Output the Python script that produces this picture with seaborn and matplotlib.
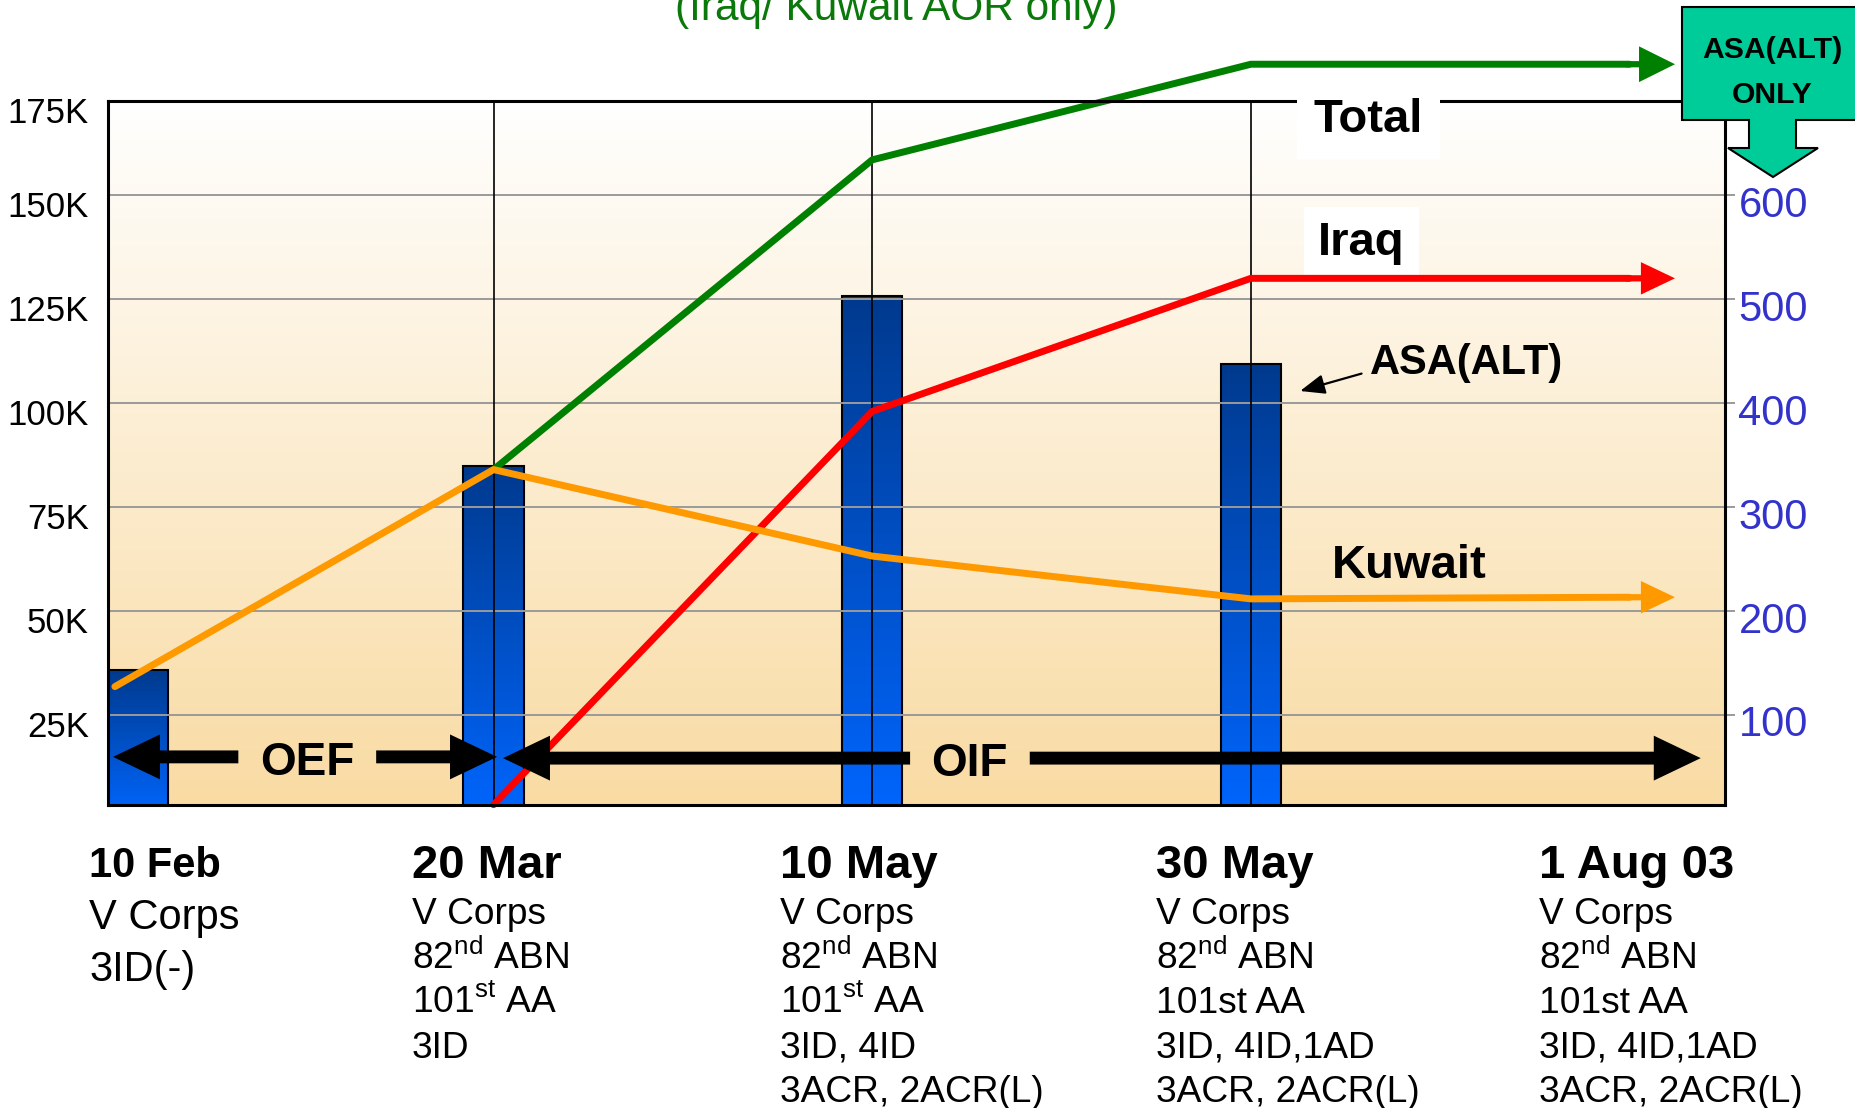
import numpy as np
import pandas as pd
import matplotlib
matplotlib.use("Agg")
import matplotlib.pyplot as plt
import matplotlib.transforms as mtransforms
from matplotlib import font_manager
from matplotlib.colors import LinearSegmentedColormap
from matplotlib.patches import Polygon, FancyArrow
import seaborn as sns

sns.set_theme(style="white")
plt.rcParams["font.family"] = ["Liberation Sans", "DejaVu Sans"]
plt.rcParams["mathtext.fontset"] = "custom"
plt.rcParams["mathtext.rm"] = "Liberation Sans"
plt.rcParams["text.color"] = "black"
plt.rcParams["axes.labelcolor"] = "black"
plt.rcParams["ytick.color"] = "black"
plt.rcParams["xtick.color"] = "black"

# stages along the time axis
stages = ["10 Feb", "20 Mar", "10 May", "30 May", "1 Aug 03"]
stage_pos = [0, 1, 2, 3, 4]

# personnel in thousands (left axis)
total_k = [None, 84, 158.5, 181.5, 181.5]
iraq_k = [None, 3.4, 98, 130, 130]
kuwait_k = [31.8, 84, 63.2, 52.9, 53.3]

# ASA(ALT) personnel (right axis, bars)
asa_pos = [0.06, 1, 2, 3]
asa_count = [143, 339, 503, 438]

left_ticks = [25, 50, 75, 100, 125, 150]
left_labels = ["25K", "50K", "75K", "100K", "125K", "150K"]
right_ticks = [100, 200, 300, 400, 500, 600]

units = [
    ["V Corps", "3ID(-)"],
    ["V Corps", r"82$^{\mathrm{nd}}$ ABN", r"101$^{\mathrm{st}}$ AA", "3ID"],
    ["V Corps", r"82$^{\mathrm{nd}}$ ABN", r"101$^{\mathrm{st}}$ AA", "3ID, 4ID", "3ACR, 2ACR(L)"],
    ["V Corps", r"82$^{\mathrm{nd}}$ ABN", "101st AA", "3ID, 4ID,1AD", "3ACR, 2ACR(L)"],
    ["V Corps", r"82$^{\mathrm{nd}}$ ABN", "101st AA", "3ID, 4ID,1AD", "3ACR, 2ACR(L)"],
]

colors = {"Total": "#008000", "Iraq": "#ff0000", "Kuwait": "#ff9900"}

W, H = 1856, 1108
fig = plt.figure(figsize=(W / 100, H / 100), dpi=100)
ax = fig.add_axes([107.7 / W, 1 - 804.9 / H, (1724.6 - 107.7) / W, (804.9 - 100.6) / H])

# background gradient
bg = LinearSegmentedColormap.from_list("bg", ["#ffffff", "#f9dba3"])
ax.imshow(np.linspace(0, 1, 256).reshape(-1, 1), cmap=bg, extent=[0, 1, 0, 1],
          transform=ax.transAxes, aspect="auto", origin="upper", zorder=0)

# bars
sns.barplot(x=asa_pos, y=asa_count, native_scale=True, width=0.17, orient="x",
            color="#0055dd", edgecolor="black", linewidth=1.5, errorbar=None, ax=ax)
bar_cmap = LinearSegmentedColormap.from_list("bar", ["#003a8e", "#0066ff"])
for p in ax.patches:
    x0, w, h = p.get_x(), p.get_width(), p.get_height()
    ax.imshow(np.linspace(0, 1, 256).reshape(-1, 1), cmap=bar_cmap,
              extent=[x0, x0 + w, 0, h], aspect="auto", origin="upper", zorder=1.2)
    p.set_facecolor("none")
    p.set_zorder(1.5)

for x in stage_pos[1:4]:
    ax.axvline(x, color="black", lw=1.2, zorder=3)

ax.set_xlim(-0.019, 4.251)
ax.set_ylim(13.4, 691)
ax.set_axisbelow(False)
ax.yaxis.grid(True, color="#9a9a9a", lw=1.4)
ax.xaxis.grid(False)
ax.set_xlabel("")
ax.set_ylabel("")
for s in ax.spines.values():
    s.set_visible(False)

# lines
ax2 = ax.twinx()
rows = []
for name, vals in [("Total", total_k), ("Iraq", iraq_k), ("Kuwait", kuwait_k)]:
    for x, v in zip(stage_pos, vals):
        if v is not None:
            rows.append((name, x, v))
df = pd.DataFrame(rows, columns=["series", "stage", "k"])
sns.lineplot(data=df, x="stage", y="k", hue="series", palette=colors, linewidth=5,
             legend=False, estimator=None, ax=ax2)
for ln in ax2.lines:
    ln.set_clip_on(False)
ax2.set_xlim(-0.019, 4.251)
ax2.set_ylim(3.35, 172.75)
ax2.set_xlabel("")
ax2.set_ylabel("")

# arrowheads at the line ends
for name, vals in [("Total", total_k), ("Iraq", iraq_k), ("Kuwait", kuwait_k)]:
    hl, hw = (0.095, 8.6) if name == "Total" else (0.09, 7.8)
    ax2.add_patch(FancyArrow(3.99, vals[-1], 0.13, 0, width=1.5, head_width=hw,
                             head_length=hl, length_includes_head=True,
                             color=colors[name], lw=0, zorder=2.2, clip_on=False))

for s in ax2.spines.values():
    s.set_color("black")
    s.set_linewidth(2.2)

# ticks
ax.yaxis.tick_right()
ax.set_yticks(right_ticks, [str(t) for t in right_ticks])
ax.tick_params(axis="y", right=True, left=False, labelright=True, labelleft=False,
               length=7, width=1.4, color="#9a9a9a", labelsize=30,
               labelcolor="#3333cc", pad=3)
ax.tick_params(axis="x", bottom=False, labelbottom=False)

narrow = "Liberation Sans Narrow"
have_narrow = any(f.name == narrow for f in font_manager.fontManager.ttflist)
left_family = [narrow, "Liberation Sans"] if have_narrow else ["Liberation Sans"]
left_size = 29 if have_narrow else 25

ax2.yaxis.tick_left()
ax2.set_yticks(left_ticks, left_labels, fontfamily=left_family)
ax2.tick_params(axis="y", left=True, right=False, labelleft=True, labelright=False,
                length=0, labelsize=left_size, labelcolor="black", pad=13.7)
ax2.tick_params(axis="x", bottom=False, labelbottom=False)

off_l = mtransforms.ScaledTranslation(0, -6.6 / 72, fig.dpi_scale_trans)
off_r = mtransforms.ScaledTranslation(0, -4.4 / 72, fig.dpi_scale_trans)
for lab in ax2.get_yticklabels():
    lab.set_transform(lab.get_transform() + off_l)
for lab in ax.get_yticklabels():
    lab.set_transform(lab.get_transform() + off_r)
ax2.text(0, 172.75, "175K", ha="right", va="center_baseline", fontsize=left_size,
         fontfamily=left_family,
         transform=ax2.get_yaxis_transform() +
         mtransforms.ScaledTranslation(-13.7 / 72, -6.6 / 72, fig.dpi_scale_trans))

# series labels
ax2.text(3.166, 165.2, "Total", fontsize=34, fontweight="bold", va="baseline",
         bbox=dict(boxstyle="square,pad=0.35", fc="white", ec="none"), zorder=10)
ax2.text(3.177, 135.6, "Iraq", fontsize=34, fontweight="bold", va="baseline",
         bbox=dict(boxstyle="square,pad=0.3", fc="white", ec="none"), zorder=1.5)
ax2.text(3.214, 60.8, "Kuwait", fontsize=34, fontweight="bold", va="center", zorder=10)
ax2.annotate("ASA(ALT)", xy=(3.13, 102.9), xytext=(3.315, 109.6), fontsize=30,
             fontweight="bold", va="center", ha="left", zorder=10,
             arrowprops=dict(arrowstyle="-|>,head_length=0.5,head_width=0.2",
                             color="black", lw=1.6, relpos=(0, 0.3), shrinkA=4, shrinkB=0))

# OEF / OIF period arrows
def period_arrow(x_left, x_txt0, x_txt1, x_right, y, label, x_label):
    for xs, xe in [(x_txt0, x_left), (x_txt1, x_right)]:
        ax2.add_patch(FancyArrow(xs, y, xe - xs, 0, width=3.1, head_width=10.8,
                                 head_length=0.124, length_includes_head=True,
                                 color="black", lw=0, zorder=5))
    ax2.text(x_label, y - 1.4, label, fontsize=33, fontweight="bold", ha="center",
             va="center", zorder=5)

period_arrow(-0.005, 0.326, 0.69, 1.009, 14.9, "OEF", 0.508)
period_arrow(1.025, 2.10, 2.416, 4.188, 14.6, "OIF", 2.257)

# title (partly cut off at top, as in the original slide)
fig.text(896 / W, 1 - 20 / H, "(Iraq/ Kuwait AOR only)", ha="center", va="baseline",
         fontsize=30.5, color="#0a780a")

# ASA(ALT) ONLY callout
pts = [(1682, 7), (1870, 7), (1870, 120), (1796, 120), (1796, 148), (1818, 148),
       (1773, 177), (1728, 148), (1749, 148), (1749, 120), (1682, 120)]
fig.add_artist(Polygon([(x / W, 1 - y / H) for x, y in pts], closed=True,
                       transform=fig.transFigure, fc="#00cc99", ec="black", lw=1.5,
                       zorder=5))
fig.text(1772 / W, 1 - 58 / H, "ASA(ALT)", ha="center", va="baseline", fontsize=21.7,
         fontweight="bold", zorder=6)
fig.text(1772 / W, 1 - 103 / H, "ONLY", ha="center", va="baseline", fontsize=21.7,
         fontweight="bold", zorder=6)

# stage labels under the chart
col_x = [89, 412, 780, 1156, 1539]
for i, (stage, lines) in enumerate(zip(stages, units)):
    first = i == 0
    head_size = 30 if first else 34
    body_size = 30 if first else 26.7
    step = 52 if first else 44.4
    y0 = 877 if first else 878
    fig.text(col_x[i] / W, 1 - y0 / H, stage, fontsize=head_size, fontweight="bold",
             va="baseline", ha="left")
    y = (929 if first else 924.5)
    for line in lines:
        fig.text(col_x[i] / W, 1 - y / H, line, fontsize=body_size, va="baseline", ha="left")
        y += step

fig.savefig("out.png", dpi=100)
